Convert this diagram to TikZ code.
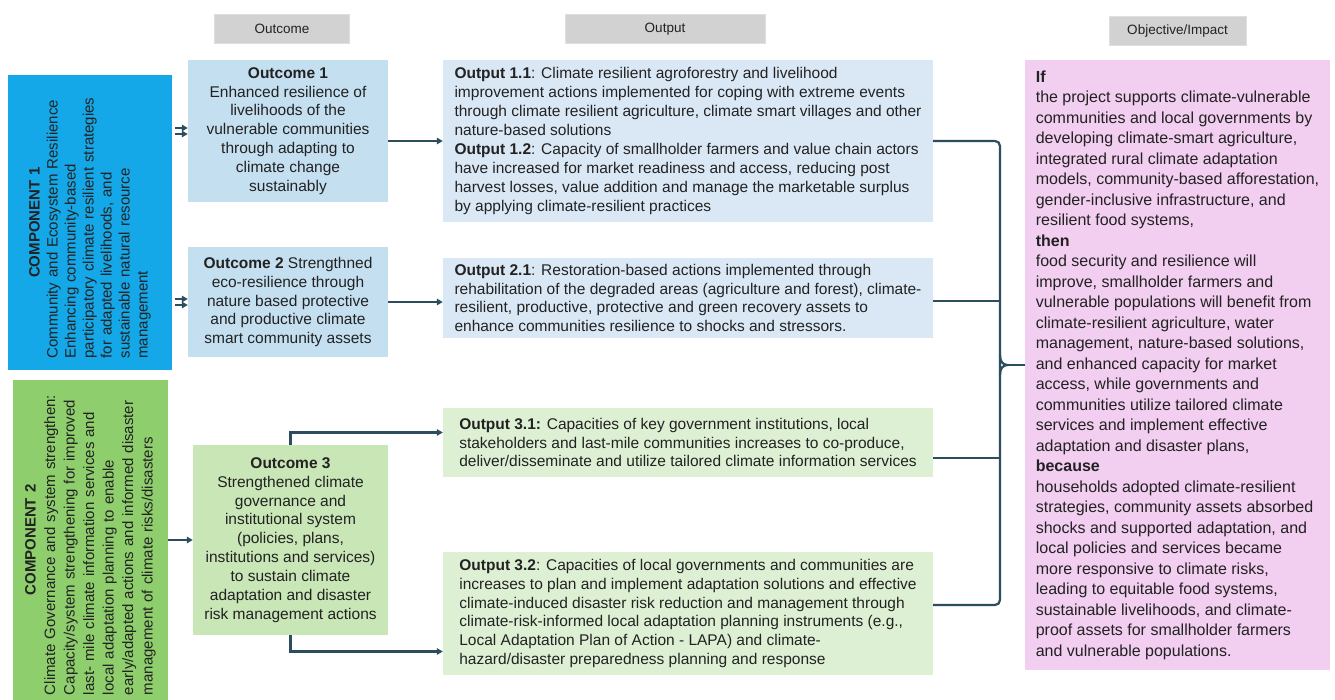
\documentclass[tikz,border=0pt]{standalone}
\usepackage{fontspec}
\setmainfont{Liberation Sans}
\usetikzlibrary{arrows.meta, positioning, calc}

\definecolor{compblue}{RGB}{20,168,232}
\definecolor{compgreen}{RGB}{142,206,108}
\definecolor{outcomeblue}{RGB}{196,223,240}
\definecolor{outputblue}{RGB}{218,232,246}
\definecolor{outcomegreen}{RGB}{200,230,182}
\definecolor{outputgreen}{RGB}{222,240,212}
\definecolor{impactpink}{RGB}{242,206,240}
\definecolor{headgray}{RGB}{210,210,210}
\definecolor{linkcol}{RGB}{44,78,92}
\definecolor{txt}{RGB}{34,34,34}

\begin{document}
\begin{tikzpicture}[
        x=1pt, y=-1pt,
        every node/.style={text=txt},
        head/.style={rectangle, fill=headgray, draw=gray!25, minimum width=#1, minimum height=29pt, font=\fontsize{13.5}{16}\selectfont},
        box/.style={rectangle, inner sep=6pt, align=center, font=\fontsize{15.5}{18.9}\selectfont},
        comp/.style={box, rotate=90, align=left, inner sep=4pt, font=\fontsize{15}{18}\selectfont},
        link/.style={line width=2.2pt, draw=linkcol},
        arrow/.style={link, -{Triangle[length=6pt, width=6.5pt]}}
    ]
    \fill[white] (0,0) rectangle (1335,700);
    \useasboundingbox (0,0) rectangle (1335,700);

    % rotated component boxes: south is their right-hand side
    \node (comp1) [comp, fill=compblue, minimum width=295pt, minimum height=164pt, text width=272pt] at (90,222.5) {\makebox[\linewidth][c]{\textbf{COMPONENT 1}}\\ Community and Ecosystem Resilience\\ Enhancing community-based\\ participatory climate resilient strategies\\ for adapted livelihoods, and\\ sustainable natural resource\\ management};
    \node (comp2) [comp, fill=compgreen, minimum width=320pt, minimum height=155pt, text width=310pt, font=\fontsize{15}{19.5}\selectfont] at (90.5,540) {\makebox[\linewidth][c]{\textbf{COMPONENT 2}}\\ Climate Governance and system strengthen:\\ Capacity/system strengthening for improved\\ last- mile climate information services and\\ local adaptation planning to enable\\ early/adapted actions and informed disaster\\ management of climate risks/disasters};

    \node (oc1) [box, fill=outcomeblue, minimum width=200pt, minimum height=142pt] at (288,131) {\textbf{Outcome 1}\\ Enhanced resilience of\\ livelihoods of the\\ vulnerable communities\\ through adapting to\\ climate change\\ sustainably};
    \node (oc2) [box, fill=outcomeblue, minimum width=200pt, minimum height=110pt] at (288,302) {\textbf{Outcome 2} Strengthned\\ eco-resilience through\\ nature based protective\\ and productive climate\\ smart community assets};
    \node (oc3) [box, fill=outcomegreen, minimum width=195pt, minimum height=190pt] at (290.5,540) {\textbf{Outcome 3}\\ Strengthened climate\\ governance and\\ institutional system\\ (policies, plans,\\ institutions and services)\\ to sustain climate\\ adaptation and disaster\\ risk management actions};

    \node (op11) [box, align=left, fill=outputblue, minimum width=490pt, minimum height=162pt] at (688,141) {\textbf{Output 1.1}: Climate resilient agroforestry and livelihood\\ improvement actions implemented for coping with extreme events\\ through climate resilient agriculture, climate smart villages and other\\ nature-based solutions\\ \textbf{Output 1.2}: Capacity of smallholder farmers and value chain actors\\ have increased for market readiness and access, reducing post\\ harvest losses, value addition and manage the marketable surplus\\ by applying climate-resilient practices};
    \node (op21) [box, align=left, fill=outputblue, minimum width=490pt, minimum height=78pt] at (688,298) {\textbf{Output 2.1}: Restoration-based actions implemented through\\ rehabilitation of the degraded areas (agriculture and forest), climate-\\ resilient, productive, protective and green recovery assets to\\ enhance communities resilience to shocks and stressors.};
    \node (op31) [box, align=left, fill=outputgreen, minimum width=490pt, minimum height=69pt] at (688,442.5) {\textbf{Output 3.1:} Capacities of key government institutions, local\\ stakeholders and last-mile communities increases to co-produce,\\ deliver/disseminate and utilize tailored climate information services};
    \node (op32) [box, align=left, fill=outputgreen, minimum width=490pt, minimum height=123pt] at (688,613.5) {\textbf{Output 3.2}: Capacities of local governments and communities are\\ increases to plan and implement adaptation solutions and effective\\ climate-induced disaster risk reduction and management through\\ climate-risk-informed local adaptation planning instruments (e.g.,\\ Local Adaptation Plan of Action - LAPA) and climate-\\ hazard/disaster preparedness planning and response};

    \node (impact) [box, align=left, fill=impactpink, minimum width=305pt, minimum height=610pt, font=\fontsize{16}{20.5}\selectfont] at (1177.5,365) {\textbf{If}\\ the project supports climate-vulnerable\\ communities and local governments by\\ developing climate-smart agriculture,\\ integrated rural climate adaptation\\ models, community-based afforestation,\\ gender-inclusive infrastructure, and\\ resilient food systems,\\ \textbf{then}\\ food security and resilience will\\ improve, smallholder farmers and\\ vulnerable populations will benefit from\\ climate-resilient agriculture, water\\ management, nature-based solutions,\\ and enhanced capacity for market\\ access, while governments and\\ communities utilize tailored climate\\ services and implement effective\\ adaptation and disaster plans,\\ \textbf{because}\\ households adopted climate-resilient\\ strategies, community assets absorbed\\ shocks and supported adaptation, and\\ local policies and services became\\ more responsive to climate risks,\\ leading to equitable food systems,\\ sustainable livelihoods, and climate-\\ proof assets for smallholder farmers\\ and vulnerable populations.};

    \node (hOutcome) [head=135pt, above=16pt of oc1, xshift=-6pt] {Outcome};
    \node (hOutput) [head=200pt, above=16pt of op11, xshift=-23pt] {Output};
    \node (hImpact) [head=137pt, above=14pt of impact] {Objective/Impact};

    \foreach \oc in {oc1, oc2}
        \foreach \s in {-3,3}
            \draw[arrow, shorten <=3pt] ($(comp1.south |- \oc.west)+(0,\s)$) -- ($(\oc.west)+(0,\s)$);
    \draw[arrow] (comp2.south |- oc3.west) -- (oc3.west);

    \draw[arrow] (oc1.east |- op11.west) -- (op11.west);
    \draw[arrow] (oc2.east) -- (oc2.east -| op21.west);
    \draw[arrow] (oc3.north) |- ($(op31.west)+(0,-10)$);
    \draw[arrow] (oc3.south) |- ($(op32.west)+(0,38)$);

    \coordinate (braceTop) at (1000,141);
    \coordinate (braceBot) at (1000,605);
    \coordinate (braceTip) at (1008,365);
    \draw[link, rounded corners=5pt] (op11.east) -- (braceTop) -- (braceBot) -- (op32.east |- braceBot);
    \draw[link] ($(op21.east)+(0,3)$) -- ($(op21.east -| braceTop)+(0,3)$);
    \draw[link] ($(op31.east)+(0,15.5)$) -- ($(op31.east -| braceTop)+(0,15.5)$);
    \draw[link] (1000,355) .. controls (1000,362) and (1003,365) .. (braceTip) .. controls (1003,365) and (1000,368) .. (1000,375);
    \draw[link] (braceTip) -- (impact.west);

\end{tikzpicture}
\end{document}
